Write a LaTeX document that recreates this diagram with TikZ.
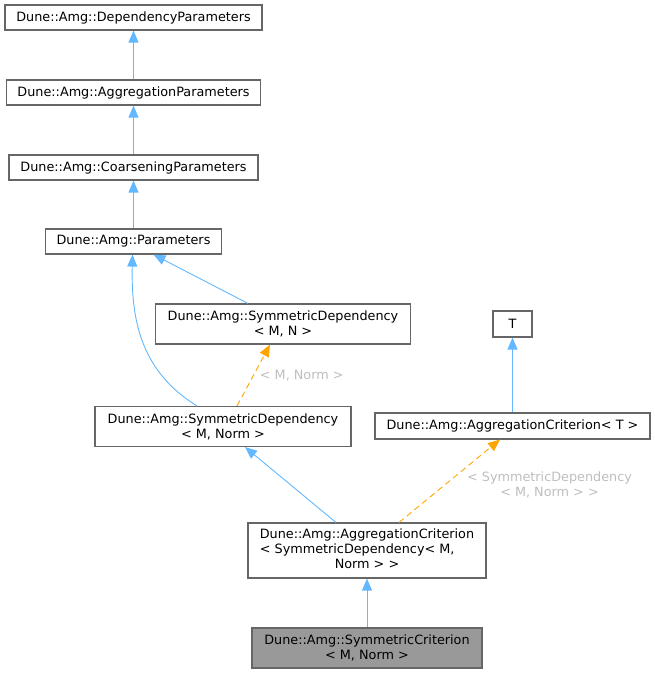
\documentclass[tikz,border=0pt]{standalone}
\usepackage{fontspec}
\setmainfont{DejaVu Sans}
\usetikzlibrary{arrows.meta}
\definecolor{edgeblue}{HTML}{63B8FF}
\definecolor{edgeorange}{HTML}{FFA500}
\definecolor{boxborder}{HTML}{666666}
\definecolor{labelgrey}{HTML}{BEBEBE}
\definecolor{hlfill}{HTML}{999999}
\begin{document}
\begin{tikzpicture}[x=1pt,y=-1pt,
  every node/.style={font=\fontsize{12.8}{15}\selectfont},
  box/.style={draw=boxborder, line width=1.1pt, fill=white, inner sep=0pt, align=center, text=black},
  inh/.style={draw=edgeblue, line width=0.9pt, -{Triangle[length=12pt,width=10pt]}},
  tmpl/.style={draw=edgeorange, line width=0.9pt, dash pattern=on 6pt off 4pt, -{Triangle[length=12pt,width=10pt]}},
  elabel/.style={text=labelgrey, align=center, inner sep=0pt}]
\useasboundingbox (0,0) rectangle (655,673);
\node[box, minimum width=257, minimum height=25] (n1) at (133.5,17.5) {Dune::Amg::DependencyParameters};
\node[box, minimum width=254, minimum height=25] (n2) at (133.5,92.5) {Dune::Amg::AggregationParameters};
\node[box, minimum width=249, minimum height=25] (n3) at (133.5,167.5) {Dune::Amg::CoarseningParameters};
\node[box, minimum width=176, minimum height=25] (n4) at (133.5,241.5) {Dune::Amg::Parameters};
\node[box, minimum width=255, minimum height=40] (n5) at (283,324) {Dune::Amg::SymmetricDependency\\< M, N >};
\node[box, minimum width=256, minimum height=40] (n6) at (223,426.5) {Dune::Amg::SymmetricDependency\\< M, Norm >};
\node[box, minimum width=39, minimum height=26] (n7) at (512.5,324) {T};
\node[box, minimum width=275, minimum height=26] (n8) at (512.5,426) {Dune::Amg::AggregationCriterion< T >};
\node[box, minimum width=238, minimum height=55] (n9) at (367,550.5) {\begin{tabular}{@{}l@{}}Dune::Amg::AggregationCriterion\\< SymmetricDependency< M,\\\multicolumn{1}{@{}c@{}}{Norm > >}\end{tabular}};
\node[box, fill=hlfill, minimum width=230, minimum height=40] (n10) at (367,648) {Dune::Amg::SymmetricCriterion\\< M, Norm >};
\draw[inh] (n2.north) -- (n1.south);
\draw[inh] (n3.north) -- (n2.south);
\draw[inh] (n4.north) -- (n3.south);
\draw[inh] ([xshift=-35pt]n5.north) -- ([xshift=20pt]n4.south);
\draw[inh] ([xshift=-26pt]n6.north) .. controls (142,372) and (131,322) .. ([xshift=-1pt]n4.south);
\draw[tmpl] ([xshift=14pt]n6.north) -- node[elabel, pos=0.5, right=6pt] {< M, Norm >} ([xshift=-13pt]n5.south);
\draw[inh] (n8.north) -- (n7.south);
\draw[inh] ([xshift=-31pt]n9.north) -- ([xshift=22pt]n6.south);
\draw[tmpl] ([xshift=32pt]n9.north) -- ([xshift=-12.5pt]n8.south);
\node[elabel] (l2) at (549.5,484.5) {< SymmetricDependency\\< M, Norm > >};
\draw[inh] (n10.north) -- (n9.south);
\end{tikzpicture}
\end{document}
